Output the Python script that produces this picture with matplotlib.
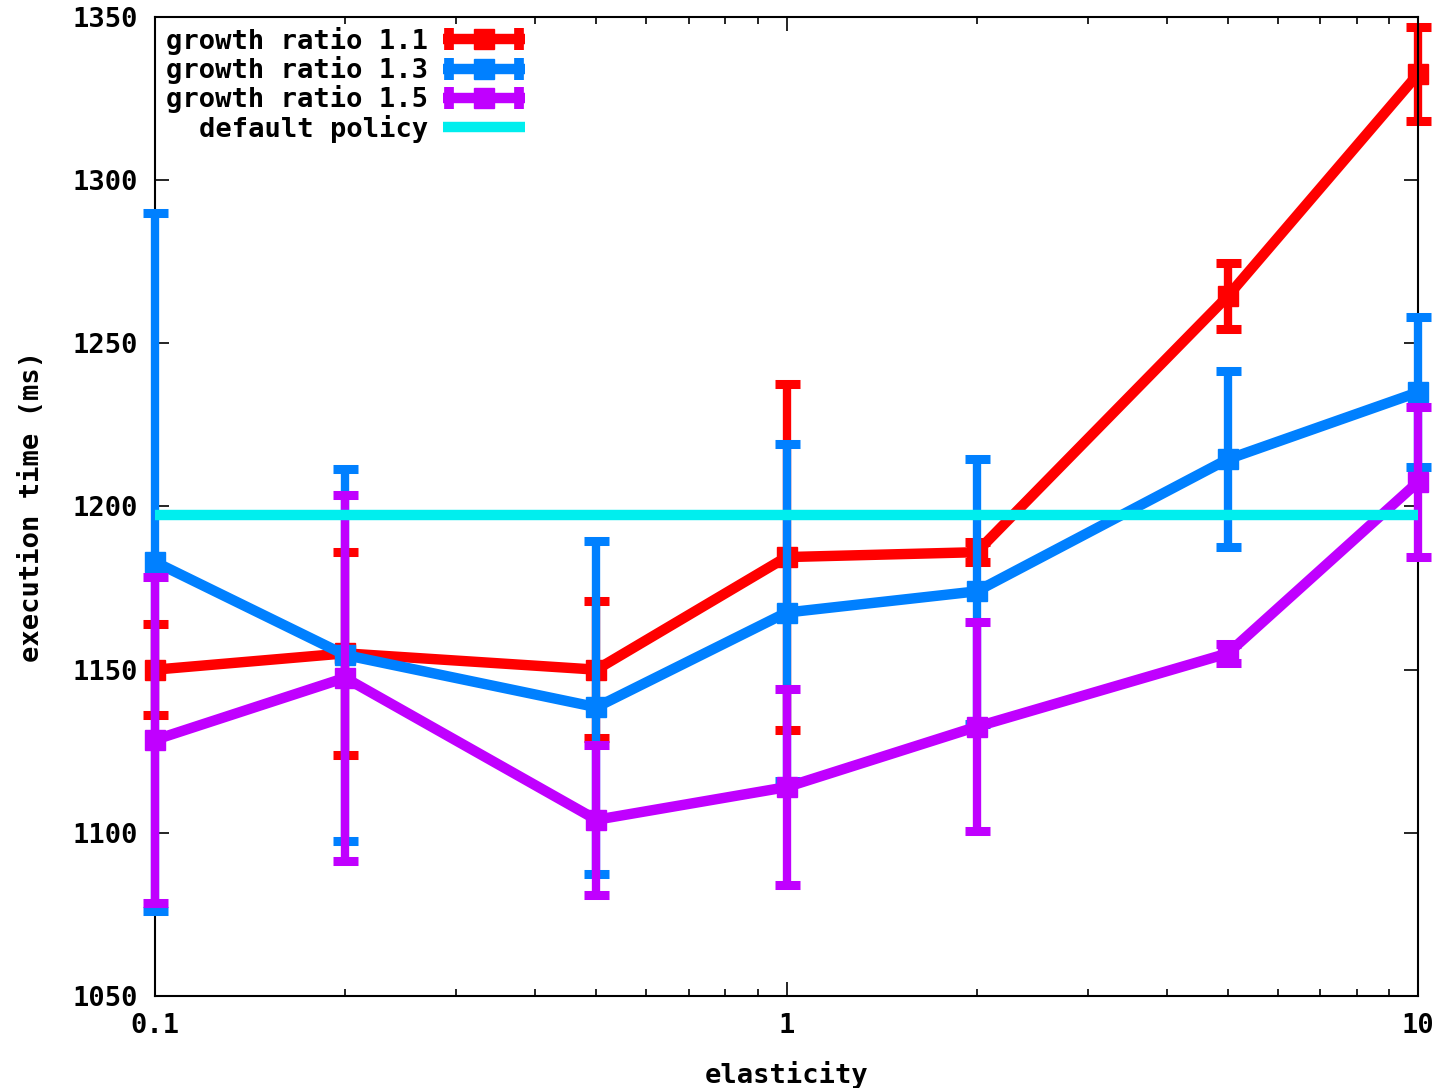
import matplotlib
matplotlib.use("Agg")
import matplotlib.pyplot as plt
from matplotlib.lines import Line2D
from matplotlib.legend_handler import HandlerBase
from matplotlib.ticker import FixedLocator, FixedFormatter, LogLocator, NullFormatter

elasticity = [0.1, 0.2, 0.5, 1, 2, 5, 10]

r11_mean = [1150, 1155, 1150, 1184.5, 1186, 1264.5, 1332.5]
r11_err = [14, 31, 21, 53, 3, 10, 14.5]

r13_mean = [1183, 1154.5, 1138.5, 1167.5, 1174, 1214.5, 1235]
r13_err = [107, 57, 51, 51.5, 40.5, 27, 23]

r15_mean = [1128.5, 1147.5, 1104, 1114, 1132.5, 1155, 1207.5]
r15_err = [50, 56, 23, 30, 32, 3, 23]

default_policy = 1197.5

labels = ["growth ratio 1.1", "growth ratio 1.3", "growth ratio 1.5", "default policy"]
colors = ["#ff0000", "#0080ff", "#c000ff", "#00eeee"]

yticks = [1050, 1100, 1150, 1200, 1250, 1300, 1350]
xticks = [0.1, 1, 10]
xticklabels = ["0.1", "1", "10"]

FONT = "DejaVu Sans Mono"
FS = 19.5
plt.rcParams['font.family'] = [FONT]
plt.rcParams['font.weight'] = 'bold'

fig = plt.figure(figsize=(14.47, 10.88), dpi=100)
ax = fig.add_axes([155/1447, 1 - 996/1088, (1418-155)/1447, (996-17)/1088])

LW = 7.5
MS = 15
series = [(r11_mean, r11_err), (r13_mean, r13_err), (r15_mean, r15_err)]
for i, (m, e) in enumerate(series):
    c = colors[i]
    ax.errorbar(elasticity, m, yerr=e, color=c, lw=LW, elinewidth=6,
                capsize=9, capthick=6.5, marker='s', markersize=MS,
                clip_on=False, zorder=2 + i)
ax.axhline(default_policy, color=colors[3], lw=LW, zorder=6)

ax.set_xscale('log')
ax.set_xlim(0.1, 10)
ax.set_ylim(1050, 1350)
ax.xaxis.set_major_locator(FixedLocator(xticks))
ax.xaxis.set_major_formatter(FixedFormatter(xticklabels))
ax.xaxis.set_minor_locator(LogLocator(base=10, subs=range(2, 10)))
ax.xaxis.set_minor_formatter(NullFormatter())
ax.set_yticks(yticks)
ax.tick_params(axis='both', which='major', direction='in', length=10, width=1.2,
               top=True, right=True, labelsize=FS, pad=12)
ax.tick_params(axis='both', which='minor', direction='in', length=5, width=1.2,
               top=True, right=True)
for sp in ax.spines.values():
    sp.set_linewidth(1.5)

ax.set_xlabel("elasticity", fontsize=FS, fontweight='bold', labelpad=16)
ax.set_ylabel("execution time (ms)", fontsize=FS, fontweight='bold', labelpad=20)


class GPHandler(HandlerBase):
    def create_artists(self, legend, orig_handle, xdescent, ydescent, width,
                       height, fontsize, trans):
        c = orig_handle.get_color()
        y = height / 2 - ydescent
        x0 = -xdescent
        x1 = width - xdescent
        arts = [Line2D([x0, x1], [y, y], color=c, lw=LW, transform=trans,
                       solid_capstyle='butt')]
        arts.append(Line2D([(x0 + x1) / 2], [y], color=c, marker='s',
                           markersize=MS, lw=0, transform=trans))
        for xx in (x0 + 4, x1 - 4):
            arts.append(Line2D([xx, xx], [y - 8, y + 8], color=c, lw=7,
                               transform=trans, solid_capstyle='butt'))
        return arts


handles = [Line2D([], [], color=c) for c in colors[:3]]
handles.append(Line2D([], [], color=colors[3], lw=LW, solid_capstyle='butt'))
hmap = {h: GPHandler() for h in handles[:3]}
leg = ax.legend(handles, labels, loc='upper left', bbox_to_anchor=(0.009, 0.99),
                frameon=False, markerfirst=False, handlelength=3.0,
                handletextpad=0.55, labelspacing=0.05, borderpad=0,
                borderaxespad=0, handler_map=hmap,
                prop={'family': FONT, 'weight': 'bold', 'size': FS})

fig.savefig("out.png", dpi=100)
